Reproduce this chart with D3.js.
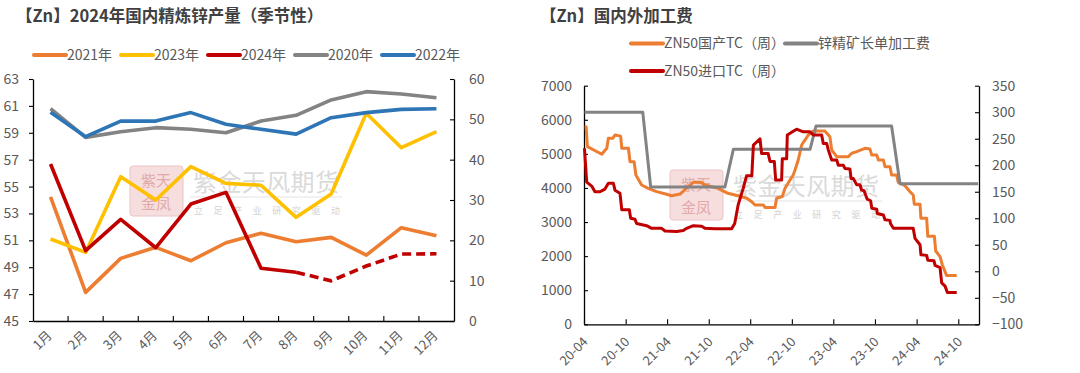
<!DOCTYPE html>
<html>
<head>
<meta charset="utf-8">
<script src="https://cdn.jsdelivr.net/npm/d3@7"></script>
<style>
  body { margin: 0; background: #fff; }
  svg text { font-family: "Noto Sans CJK SC", "Noto Sans", sans-serif; }
</style>
</head>
<body>
<svg id="chart" width="1080" height="373"></svg>
<script>
// ---- left chart: monthly refined zinc output, 万吨
const months = ["1月", "2月", "3月", "4月", "5月", "6月", "7月", "8月", "9月", "10月", "11月", "12月"];
const prod2020 = [60.8, 58.66, 59.08, 59.38, 59.26, 59.0, 59.87, 60.3, 61.44, 62.06, 61.88, 61.6];
const prod2021 = [54.24, 47.13, 49.66, 50.48, 49.48, 50.82, 51.52, 50.9, 51.22, 49.9, 51.94, 51.34];
const prod2022 = [60.52, 58.71, 59.87, 59.87, 60.5, 59.63, 59.26, 58.9, 60.12, 60.5, 60.74, 60.79];
const prod2023 = [51.1, 50.1, 55.73, 54.0, 56.48, 55.24, 55.1, 52.71, 54.44, 60.45, 57.89, 59.08];
const prod2024 = [56.68, 50.23, 52.56, 50.45, 53.7, 54.57, 48.92, 48.62, 47.99, 49.09, 49.98, 50.0];
const prod2024Actual = 8; // first 8 months solid, rest dashed
const leftTicksL = [45, 47, 49, 51, 53, 55, 57, 59, 61, 63];
const leftTicksR = [0, 10, 20, 30, 40, 50, 60];

// ---- right chart: treatment charges (weekly)
const tcDomestic = [
  ["2020-04-10", 5827], ["2020-04-16", 5211], ["2020-06-18", 4988], ["2020-07-10", 5164], ["2020-07-17", 5457],
  ["2020-08-06", 5457], ["2020-08-15", 5554], ["2020-09-09", 5520], ["2020-09-14", 5164], ["2020-10-13", 5164],
  ["2020-10-20", 4771], ["2020-11-07", 4771], ["2020-11-15", 4380], ["2020-12-10", 4087], ["2021-01-08", 3990],
  ["2021-02-14", 3891], ["2021-03-30", 3814], ["2021-04-21", 3773], ["2021-05-28", 3820], ["2021-07-11", 4087],
  ["2021-07-25", 4166], ["2021-08-28", 4166], ["2021-09-14", 4087], ["2021-11-11", 3990], ["2021-12-24", 3843],
  ["2022-02-06", 3773], ["2022-03-17", 3697], ["2022-04-08", 3597], ["2022-04-22", 3500], ["2022-05-29", 3500],
  ["2022-06-05", 3430], ["2022-07-19", 3430], ["2022-07-26", 3697], ["2022-08-20", 3750], ["2022-09-01", 3990],
  ["2022-09-23", 4234], ["2022-10-07", 4380], ["2022-10-15", 4527], ["2022-10-29", 4821], ["2022-11-13", 5261],
  ["2022-11-28", 5408], ["2022-12-12", 5554], ["2023-01-03", 5671], ["2023-02-23", 5671], ["2023-03-17", 5505],
  ["2023-03-25", 5114], ["2023-04-16", 4918], ["2023-06-06", 4918], ["2023-06-21", 5017], ["2023-07-13", 5064],
  ["2023-08-18", 5164], ["2023-09-09", 5140], ["2023-09-17", 4967], ["2023-10-09", 4967], ["2023-10-16", 4821],
  ["2023-11-07", 4821], ["2023-11-14", 4624], ["2023-12-06", 4624], ["2023-12-13", 4380], ["2024-01-04", 4380],
  ["2024-01-11", 4166], ["2024-02-10", 4067], ["2024-03-03", 3891], ["2024-03-17", 3794], ["2024-03-22", 3521],
  ["2024-04-16", 3521], ["2024-04-20", 3110], ["2024-05-15", 3110], ["2024-05-20", 2580], ["2024-06-18", 2580],
  ["2024-06-24", 2150], ["2024-07-13", 1983], ["2024-07-23", 1740], ["2024-08-11", 1430], ["2024-09-24", 1430]
];
const tcImport = [
  ["2020-04-03", 232], ["2020-04-13", 168], ["2020-05-06", 160], ["2020-05-19", 150], ["2020-06-10", 150],
  ["2020-07-02", 155], ["2020-07-17", 166], ["2020-08-08", 166], ["2020-08-15", 153], ["2020-09-06", 147],
  ["2020-09-14", 116], ["2020-10-17", 116], ["2020-10-23", 100], ["2020-11-11", 98], ["2020-11-18", 90],
  ["2021-01-01", 86], ["2021-01-23", 81], ["2021-03-08", 81], ["2021-03-23", 76], ["2021-05-13", 75],
  ["2021-06-11", 77], ["2021-06-26", 81], ["2021-07-25", 86], ["2021-08-31", 85], ["2021-09-14", 81],
  ["2021-10-28", 80], ["2022-01-09", 80], ["2022-01-23", 90], ["2022-02-07", 125], ["2022-03-01", 156],
  ["2022-03-16", 180], ["2022-04-08", 180], ["2022-04-15", 238], ["2022-04-30", 244], ["2022-05-14", 250],
  ["2022-05-21", 222], ["2022-06-19", 222], ["2022-06-27", 207], ["2022-07-16", 207], ["2022-07-22", 172],
  ["2022-08-17", 172], ["2022-08-20", 212], ["2022-09-08", 212], ["2022-09-11", 257], ["2022-10-07", 264],
  ["2022-10-22", 268], ["2022-11-20", 263], ["2022-12-20", 263], ["2023-01-03", 257], ["2023-02-09", 257],
  ["2023-02-16", 241], ["2023-03-03", 241], ["2023-03-10", 229], ["2023-03-25", 210], ["2023-04-16", 210],
  ["2023-04-23", 200], ["2023-05-15", 200], ["2023-05-22", 194], ["2023-06-13", 193], ["2023-06-18", 175],
  ["2023-06-28", 175], ["2023-07-13", 163], ["2023-07-27", 163], ["2023-08-04", 153], ["2023-08-14", 152],
  ["2023-08-28", 136], ["2023-09-12", 133], ["2023-09-17", 119], ["2023-10-09", 117], ["2023-10-11", 109],
  ["2023-11-07", 106], ["2023-11-14", 97], ["2023-12-06", 96], ["2023-12-08", 90], ["2023-12-21", 81],
  ["2024-03-17", 81], ["2024-03-25", 62], ["2024-04-16", 50], ["2024-04-20", 31], ["2024-05-15", 30],
  ["2024-05-20", 21], ["2024-06-16", 20], ["2024-06-21", 11], ["2024-07-13", 7], ["2024-07-20", -22],
  ["2024-08-04", -28], ["2024-08-14", -40], ["2024-09-24", -40]
];
const tcLongTerm = [
  ["2020-04-03", 300], ["2020-12-15", 300], ["2021-01-19", 159], ["2021-12-11", 159], ["2022-01-17", 230],
  ["2022-12-20", 230], ["2023-01-15", 274], ["2023-12-13", 274], ["2024-01-19", 165], ["2024-12-27", 165]
];
const dateTicks = ["2020-04-01", "2020-10-01", "2021-04-01", "2021-10-01", "2022-04-01",
  "2022-10-01", "2023-04-01", "2023-10-01", "2024-04-01", "2024-10-01"];
const rightTicksL = [0, 1000, 2000, 3000, 4000, 5000, 6000, 7000];
const rightTicksR = [-100, -50, 0, 50, 100, 150, 200, 250, 300, 350];

const textColor = "#595959";
const axisColor = "#000";
const parseDate = d3.timeParse("%Y-%m-%d");
const svg = d3.select("#chart");

function styleAxis(g, size) {
  g.select(".domain").attr("stroke", axisColor).attr("stroke-width", 1.3);
  g.selectAll(".tick line").attr("stroke", axisColor).attr("stroke-width", 1.1);
  g.selectAll(".tick text").attr("fill", textColor).style("font-size", (size || 14) + "px");
}

function drawWatermark(x, y) {
  const g = svg.append("g").attr("transform", "translate(" + x + "," + y + ")");
  g.append("rect").attr("width", 53).attr("height", 50).attr("rx", 3)
    .attr("fill", "#f6dede").attr("stroke", "#ecc4c4");
  g.append("text").attr("x", 26).attr("y", 20).attr("text-anchor", "middle")
    .attr("fill", "#e2a9a9").style("font-size", "15px").text("紫天");
  g.append("text").attr("x", 26).attr("y", 43).attr("text-anchor", "middle")
    .attr("fill", "#e2a9a9").style("font-size", "15px").text("金凤");
  g.append("text").attr("x", 63).attr("y", 25).attr("textLength", 146).attr("lengthAdjust", "spacing")
    .attr("fill", "#dadada").style("font-size", "24px").text("紫金天风期货");
  g.append("line").attr("x1", 60).attr("x2", 212).attr("y1", 31).attr("y2", 31)
    .attr("stroke", "#ededed").attr("stroke-width", 1.5);
  g.append("text").attr("x", 64).attr("y", 48).attr("textLength", 146).attr("lengthAdjust", "spacing")
    .attr("fill", "#d2d2d2").style("font-size", "9px").text("立足产业研究驱动");
}

function drawLegend(items) {
  items.forEach(it => {
    svg.append("line").attr("x1", it.x).attr("x2", it.x + 32).attr("y1", it.y).attr("y2", it.y)
      .attr("stroke", it.color).attr("stroke-width", 4).attr("stroke-linecap", "round");
    svg.append("text").attr("x", it.x + 33).attr("y", it.y).attr("dy", "0.35em")
      .attr("fill", textColor).style("font-size", "14px").text(it.label);
  });
}

// ================= left chart =================
const L = { left: 33, right: 454, top: 79, bottom: 321 };

svg.append("text").attr("x", 16).attr("y", 22).attr("fill", "#404040")
  .style("font-size", "16.5px").style("font-weight", "bold").text("【Zn】2024年国内精炼锌产量（季节性）");

drawWatermark(130, 166);

const xBand = d3.scaleBand().domain(months).range([L.left, L.right]);
const yL = d3.scaleLinear().domain([45, 63]).range([L.bottom, L.top]);
const yLR = d3.scaleLinear().domain([0, 60]).range([L.bottom, L.top]);

const gxL = svg.append("g").attr("transform", "translate(0," + L.bottom + ")")
  .call(d3.axisBottom(xBand).tickSize(0).tickSizeOuter(0));
gxL.selectAll(".tick text").attr("y", 0).attr("x", 0).attr("dy", "0.35em")
  .attr("text-anchor", "end").attr("transform", "translate(-1,12) rotate(-45)");
gxL.selectAll(".bnd").data(months.slice(1)).join("line").attr("class", "bnd")
  .attr("x1", d => xBand(d)).attr("x2", d => xBand(d)).attr("y1", 0).attr("y2", -5);
styleAxis(gxL, 13);
gxL.selectAll(".bnd").attr("stroke", axisColor).attr("stroke-width", 1.1);

const gyL = svg.append("g").attr("transform", "translate(" + L.left + ",0)")
  .call(d3.axisLeft(yL).tickValues(leftTicksL).tickSizeInner(4).tickSizeOuter(0).tickPadding(10));
styleAxis(gyL);
const gyLR = svg.append("g").attr("transform", "translate(" + L.right + ",0)")
  .call(d3.axisRight(yLR).tickValues(leftTicksR).tickSizeInner(-4).tickSizeOuter(0).tickPadding(15));
styleAxis(gyLR);

const prodLine = d3.line().x((d, i) => xBand(months[i]) + xBand.bandwidth() / 2).y(d => yL(d));
const seasonal = [
  { label: "2021年", color: "#ED7D31", values: prod2021 },
  { label: "2023年", color: "#FFC000", values: prod2023 },
  { label: "2024年", color: "#C00000", values: prod2024 },
  { label: "2020年", color: "#838383", values: prod2020 },
  { label: "2022年", color: "#2E75B6", values: prod2022 }
];
seasonal.forEach(s => {
  const p = svg.append("path").attr("fill", "none").attr("stroke", s.color)
    .attr("stroke-width", 3.6).attr("stroke-linejoin", "round");
  if (s.values === prod2024) {
    p.attr("d", prodLine.defined((d, i) => i < prod2024Actual)(s.values));
    svg.append("path").attr("fill", "none").attr("stroke", s.color).attr("stroke-width", 3.6)
      .attr("stroke-dasharray", "9,5")
      .attr("d", prodLine.defined((d, i) => i >= prod2024Actual - 1)(s.values));
    prodLine.defined(() => true);
  } else {
    p.attr("d", prodLine(s.values));
  }
});

drawLegend(seasonal.map((s, i) => ({ label: s.label, color: s.color, x: 34 + i * 87, y: 55 })));

// ================= right chart =================
const R = { left: 584, right: 979, top: 85.7, bottom: 324.3 };

svg.append("text").attr("x", 540).attr("y", 22).attr("fill", "#404040")
  .style("font-size", "16.5px").style("font-weight", "bold").text("【Zn】国内外加工费");

drawWatermark(670, 170);

const xTime = d3.scaleTime().domain([parseDate("2020-04-01"), parseDate("2024-12-31")]).range([R.left, R.right]);
const yRL = d3.scaleLinear().domain([0, 7000]).range([R.bottom, R.top]);
const yRR = d3.scaleLinear().domain([-100, 350]).range([R.bottom, R.top]);

const gxR = svg.append("g").attr("transform", "translate(0," + R.bottom + ")")
  .call(d3.axisBottom(xTime).tickValues(dateTicks.map(parseDate)).tickFormat(d3.timeFormat("%y-%m"))
    .tickSizeInner(-5).tickSizeOuter(0));
gxR.selectAll(".tick text").attr("y", 0).attr("x", 0).attr("dy", "0.35em")
  .attr("text-anchor", "end").attr("transform", "translate(1,15) rotate(-45)");
styleAxis(gxR, 13);

const gyRL = svg.append("g").attr("transform", "translate(" + R.left + ",0)")
  .call(d3.axisLeft(yRL).tickValues(rightTicksL).tickFormat(d3.format("d"))
    .tickSizeInner(-4).tickSizeOuter(0).tickPadding(12));
styleAxis(gyRL);
const gyRR = svg.append("g").attr("transform", "translate(" + R.right + ",0)")
  .call(d3.axisRight(yRR).tickValues(rightTicksR).tickFormat(d3.format("d"))
    .tickSizeInner(-4).tickSizeOuter(0).tickPadding(13));
styleAxis(gyRR);

const tcSeries = [
  { label: "ZN50国产TC（周）", color: "#ED7D31", values: tcDomestic, y: yRL },
  { label: "锌精矿长单加工费", color: "#838383", values: tcLongTerm, y: yRR },
  { label: "ZN50进口TC（周）", color: "#C00000", values: tcImport, y: yRR }
];
tcSeries.forEach(s => {
  const line = d3.line().x(d => xTime(parseDate(d[0]))).y(d => s.y(d[1]));
  svg.append("path").attr("fill", "none").attr("stroke", s.color)
    .attr("stroke-width", 3).attr("stroke-linejoin", "round").attr("d", line(s.values));
});

drawLegend([
  { label: tcSeries[0].label, color: tcSeries[0].color, x: 631, y: 43.5 },
  { label: tcSeries[1].label, color: tcSeries[1].color, x: 785, y: 43.5 },
  { label: tcSeries[2].label, color: tcSeries[2].color, x: 631, y: 71 }
]);
</script>
</body>
</html>
